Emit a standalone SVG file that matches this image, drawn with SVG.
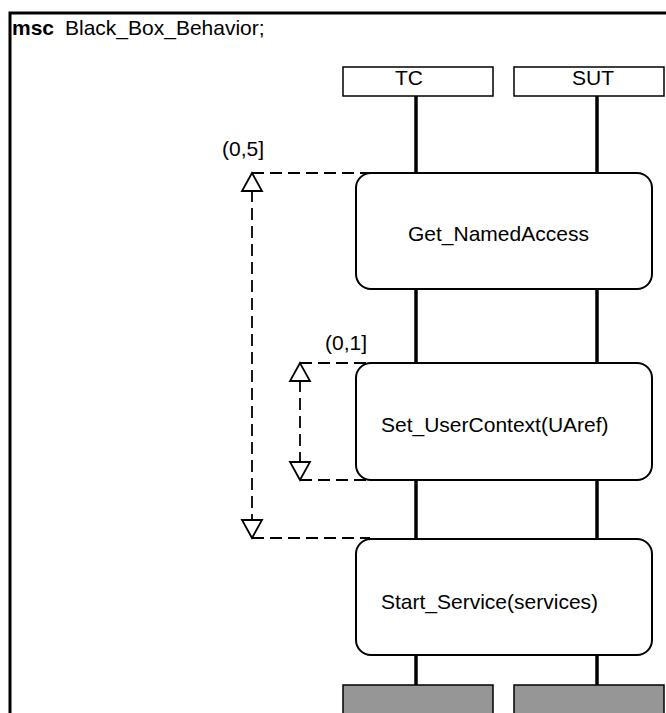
<svg xmlns="http://www.w3.org/2000/svg" width="666" height="713" viewBox="0 0 666 713">
<style>
text{font-family:"Liberation Sans",Arial,sans-serif;font-size:21px;fill:#000}
.inst{fill:#fff;stroke:#000;stroke-width:1.5}
.ref{fill:#fff;stroke:#000;stroke-width:2}
.life{stroke:#000;stroke-width:3.5;fill:none}
.dash{stroke:#000;stroke-width:1.8;fill:none;stroke-dasharray:12 6}
.tri{fill:#fff;stroke:#000;stroke-width:1.8}
.gray{fill:#969696;stroke:#000;stroke-width:1.5}
</style>
<rect width="666" height="713" fill="#fff"/>
<g id="frame">
<path d="M10,713 V13 H666" fill="none" stroke="#000" stroke-width="3"/>
<text x="12" y="35" font-weight="bold">msc</text>
<text x="65" y="35">Black_Box_Behavior;</text>
</g>
<g id="lifelines">
<line class="life" x1="416" y1="96" x2="416" y2="686"/>
<line class="life" x1="597" y1="96" x2="597" y2="686"/>
</g>
<g id="TC">
<rect class="inst" x="343" y="67" width="150" height="29"/>
<text x="395" y="85">TC</text>
</g>
<g id="SUT">
<rect class="inst" x="514" y="67" width="150" height="29"/>
<text x="572" y="85">SUT</text>
</g>
<g id="connectors">
<path class="dash" d="M252,173 H370 M252,190 V520 M252,538 H370"/>
<polygon class="tri" points="252,173 242,191 262,191"/>
<polygon class="tri" points="252,538 242,520 262,520"/>
<text x="222" y="156">(0,5]</text>
<path class="dash" d="M300,363 H370 M300,380 V462 M300,480 H370"/>
<polygon class="tri" points="300,363 290,381 310,381"/>
<polygon class="tri" points="300,480 290,462 310,462"/>
<text x="325" y="350">(0,1]</text>
</g>
<g id="Get_NamedAccess">
<rect class="ref" x="356" y="173" width="296" height="116" rx="15"/>
<text x="408" y="241">Get_NamedAccess</text>
</g>
<g id="Set_UserContext">
<rect class="ref" x="356" y="363" width="296" height="117" rx="15"/>
<text x="381" y="432">Set_UserContext(UAref)</text>
</g>
<g id="Start_Service">
<rect class="ref" x="356" y="539" width="296" height="116" rx="15"/>
<text x="381" y="609">Start_Service(services)</text>
</g>
<g id="TC_end">
<rect class="gray" x="343" y="685" width="150" height="40"/>
</g>
<g id="SUT_end">
<rect class="gray" x="514" y="685" width="150" height="40"/>
</g>
</svg>
